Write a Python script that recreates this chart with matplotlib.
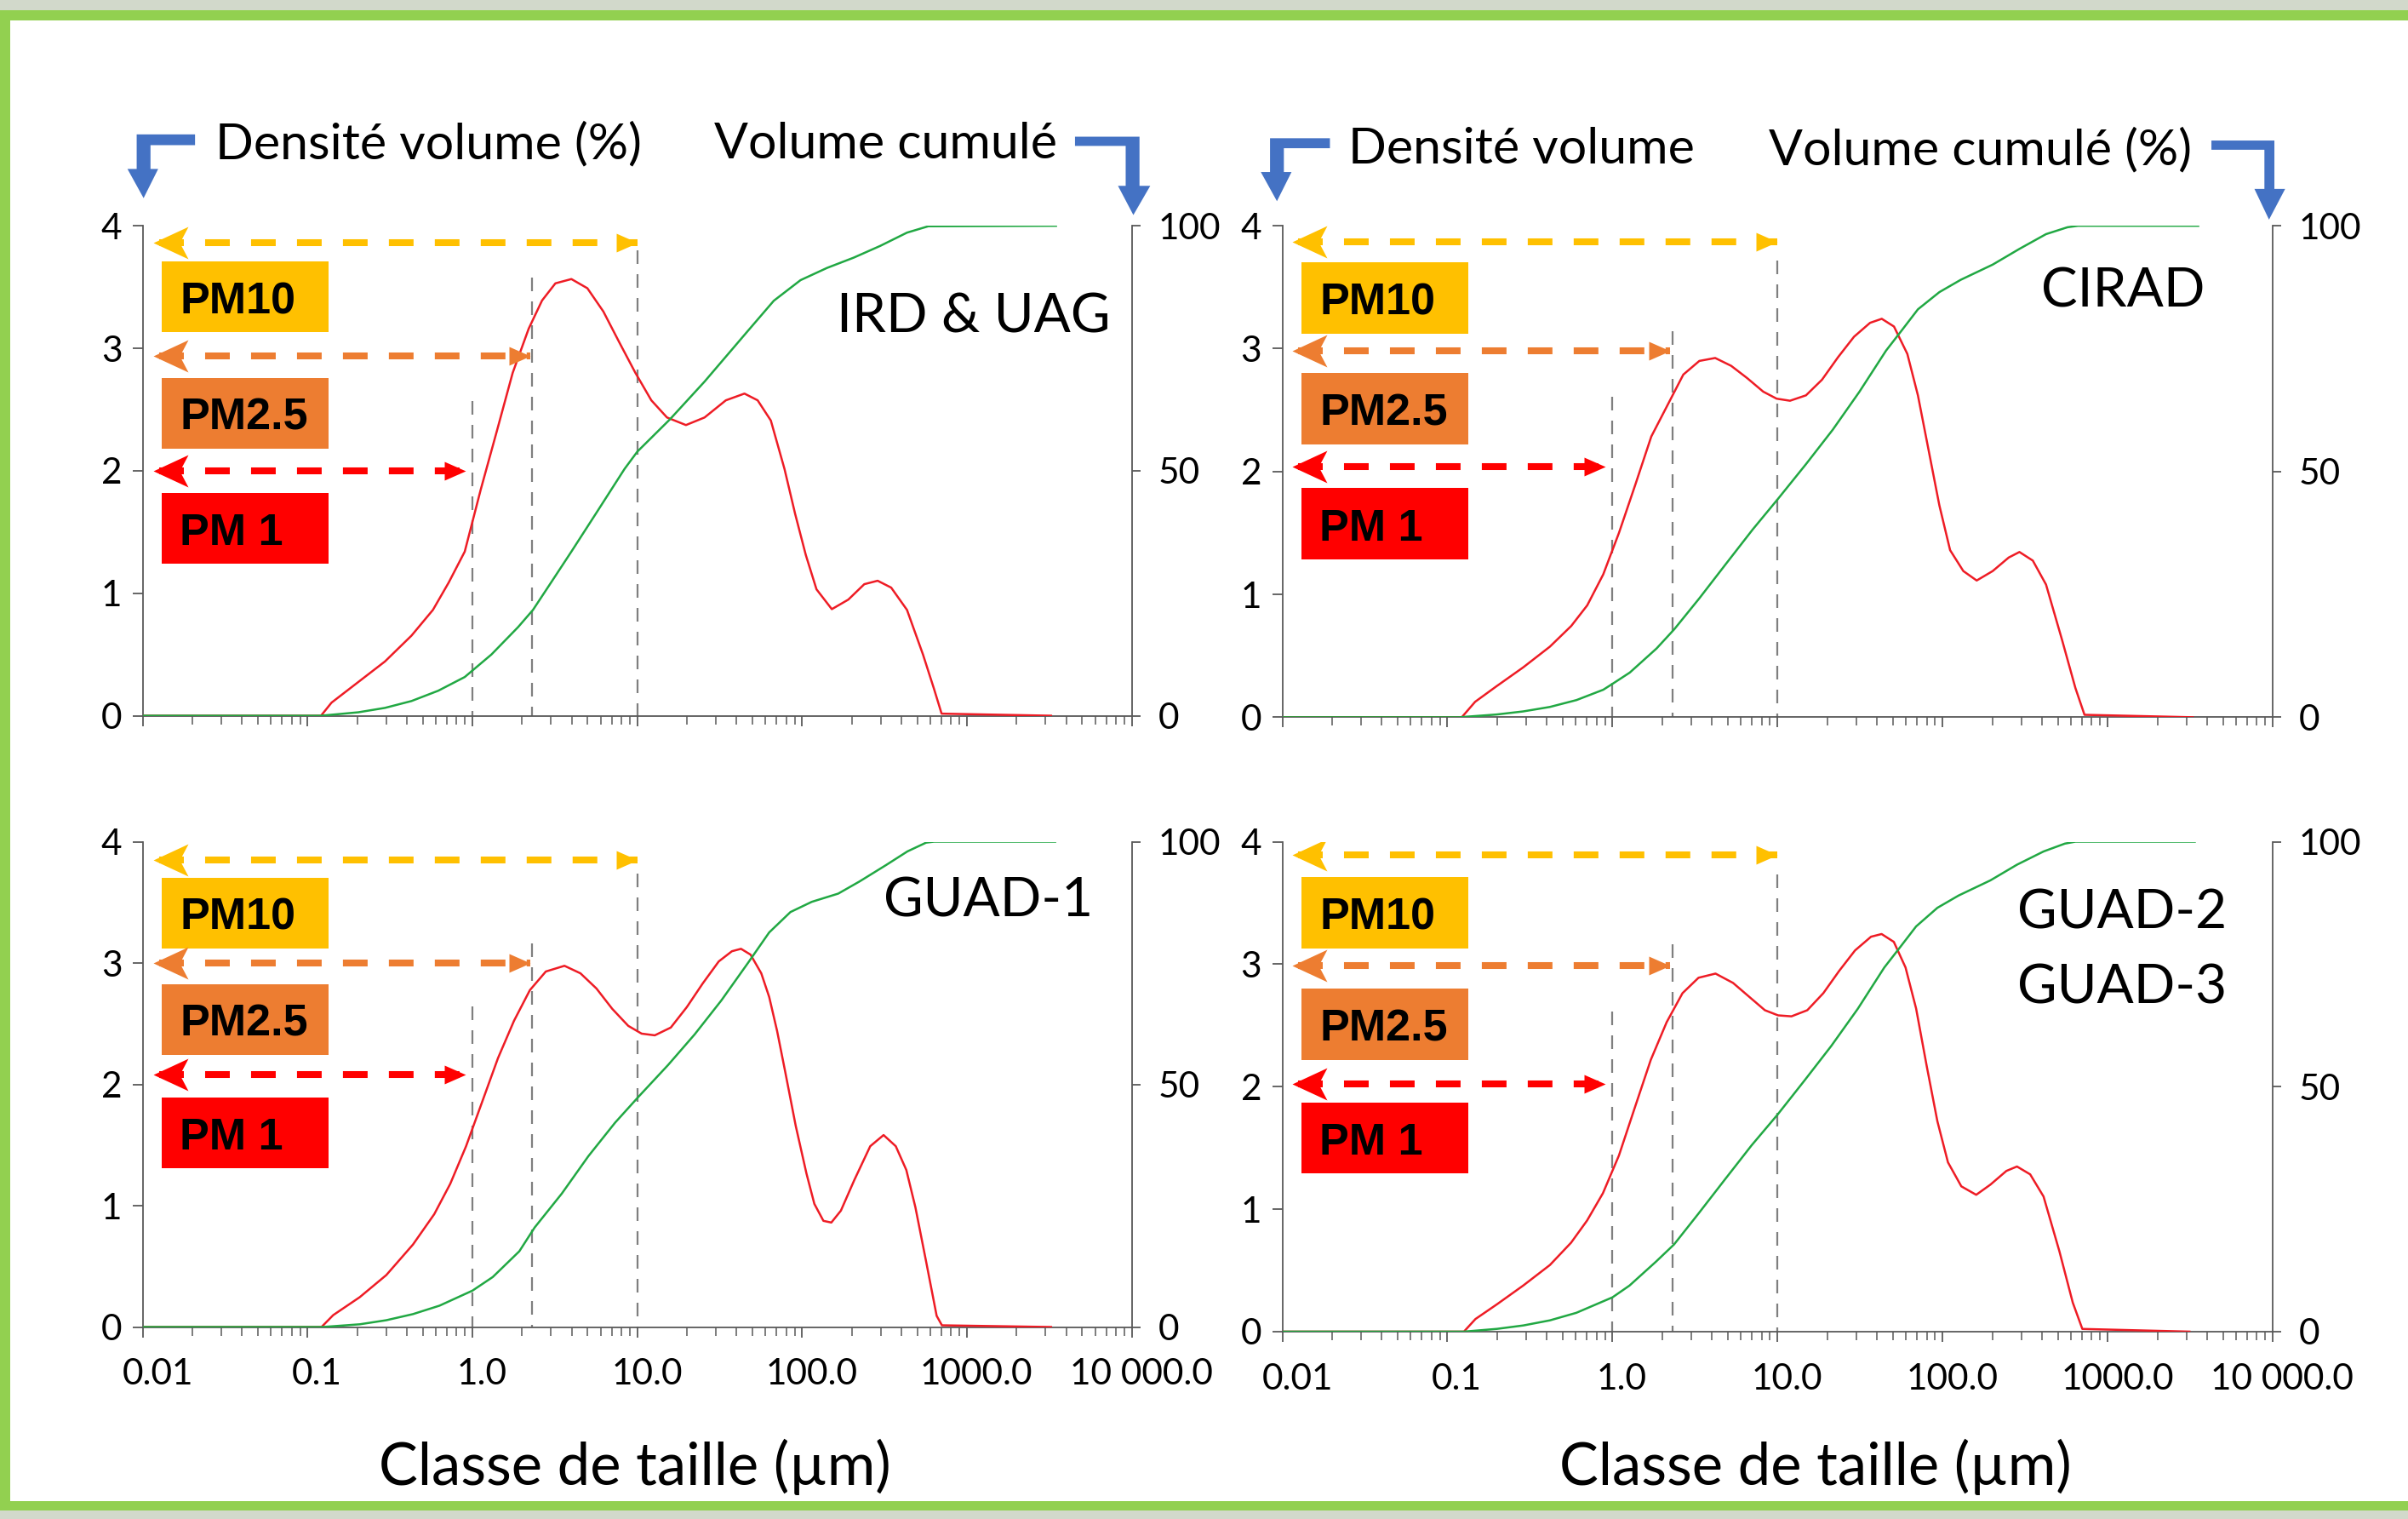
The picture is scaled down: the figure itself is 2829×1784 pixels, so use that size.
import matplotlib
matplotlib.use("Agg")
import matplotlib.pyplot as plt
import numpy as np
from matplotlib.markers import MarkerStyle
from matplotlib.patches import Polygon, Rectangle
from matplotlib.path import Path
from matplotlib.ticker import LogLocator, NullFormatter
from matplotlib.transforms import Affine2D, ScaledTranslation

plt.rcParams["font.family"] = ["Lato", "DejaVu Sans"]

# ---- values ----
size_ticks = [0.01, 0.1, 1, 10, 100, 1000, 10000]
size_tick_labels = ["0.01", "0.1", "1.0", "10.0", "100.0", "1000.0", "10 000.0"]
pm_names = ["PM 1", "PM2.5", "PM10"]
pm_colors = ["#FF0000", "#ED7D31", "#FFC000"]
pm_cuts = [1.0, 2.3, 10.0]        # dashed vertical lines (µm)
pm_arrow_ends = [0.91, 2.23, 10.0]

# sizes are given as log10(size in µm), read on the log axis
# IRD & UAG
ird_d_logsize = [-2, -0.919, -0.855, -0.693, -0.531, -0.37, -0.24, -0.144, -0.047, 0.05,
                 0.147, 0.244, 0.341, 0.422, 0.503, 0.60, 0.697, 0.794, 0.89, 0.988,
                 1.085, 1.18, 1.295, 1.408, 1.537, 1.65, 1.73, 1.81, 1.893, 1.957,
                 2.022, 2.087, 2.18, 2.28, 2.377, 2.458, 2.54, 2.636, 2.733, 2.80,
                 2.846, 3.51]
ird_density = [0, 0, 0.107, 0.275, 0.443, 0.654, 0.864, 1.088, 1.34, 1.846,
               2.32, 2.80, 3.16, 3.39, 3.53, 3.565, 3.49, 3.30, 3.05, 2.80,
               2.575, 2.435, 2.373, 2.435, 2.575, 2.63, 2.575, 2.41, 2.014, 1.65,
               1.313, 1.032, 0.87, 0.948, 1.074, 1.102, 1.046, 0.864, 0.50, 0.219,
               0.017, 0]
ird_c_logsize = [-2, -0.92, -0.855, -0.693, -0.531, -0.37, -0.208, -0.047, 0.115, 0.277,
                 0.367, 0.471, 0.60, 0.761, 0.923, 1.0, 1.198, 1.408, 1.667, 1.828,
                 1.99, 2.151, 2.313, 2.474, 2.636, 2.765, 3.54]
ird_cumul = [0, 0, 0.2, 0.7, 1.6, 3.0, 5.1, 7.9, 12.5, 18.1,
             21.6, 26.9, 33.5, 41.9, 50.4, 53.9, 60.5, 68.2, 78.4, 84.7,
             88.9, 91.4, 93.5, 95.9, 98.6, 99.9, 100]

# CIRAD
cirad_d_logsize = [-2, -0.913, -0.832, -0.703, -0.541, -0.379, -0.25, -0.153, -0.056, 0.039,
                   0.138, 0.235, 0.332, 0.429, 0.526, 0.622, 0.719, 0.816, 0.913, 0.994,
                   1.075, 1.172, 1.269, 1.366, 1.463, 1.56, 1.631, 1.705, 1.786, 1.85,
                   1.915, 1.98, 2.045, 2.125, 2.206, 2.303, 2.40, 2.465, 2.546, 2.626,
                   2.723, 2.804, 2.859, 3.515]
cirad_density = [0, 0, 0.126, 0.252, 0.406, 0.575, 0.743, 0.911, 1.163, 1.50,
                 1.892, 2.285, 2.537, 2.789, 2.90, 2.924, 2.86, 2.76, 2.65, 2.593,
                 2.576, 2.62, 2.747, 2.93, 3.097, 3.21, 3.243, 3.18, 2.957, 2.62,
                 2.172, 1.724, 1.36, 1.19, 1.113, 1.19, 1.30, 1.345, 1.275, 1.08,
                 0.63, 0.238, 0.02, 0]
cirad_c_logsize = [-2, -0.93, -0.703, -0.541, -0.379, -0.218, -0.056, 0.0, 0.105, 0.267,
                   0.374, 0.526, 0.687, 0.849, 1.004, 1.172, 1.334, 1.495, 1.657, 1.754,
                   1.85, 1.98, 2.109, 2.303, 2.465, 2.626, 2.756, 2.82, 3.548]
cirad_cumul = [0, 0, 0.56, 1.19, 2.1, 3.5, 5.6, 6.8, 9.1, 14.0,
               17.9, 24.2, 31.2, 38.2, 44.5, 51.5, 58.5, 66.2, 74.6, 78.8,
               83.0, 86.5, 89.0, 92.1, 95.3, 98.3, 99.7, 100, 100]

# GUAD-1
guad1_d_logsize = [-2, -0.916, -0.845, -0.684, -0.523, -0.361, -0.232, -0.135, -0.039, 0.058,
                   0.155, 0.252, 0.348, 0.445, 0.558, 0.655, 0.752, 0.848, 0.945, 1.026,
                   1.106, 1.203, 1.30, 1.397, 1.494, 1.574, 1.629, 1.687, 1.752, 1.80,
                   1.848, 1.897, 1.961, 2.026, 2.074, 2.129, 2.177, 2.235, 2.316, 2.413,
                   2.494, 2.568, 2.632, 2.687, 2.752, 2.816, 2.848, 3.51]
guad1_density = [0, 0, 0.098, 0.246, 0.428, 0.68, 0.93, 1.18, 1.49, 1.853,
                 2.217, 2.524, 2.776, 2.93, 2.977, 2.915, 2.79, 2.622, 2.482, 2.418,
                 2.404, 2.468, 2.636, 2.832, 3.013, 3.097, 3.117, 3.069, 2.915, 2.72,
                 2.44, 2.105, 1.658, 1.266, 1.015, 0.875, 0.861, 0.959, 1.21, 1.49,
                 1.582, 1.49, 1.294, 0.987, 0.54, 0.092, 0.014, 0]
guad1_c_logsize = [-2, -0.91, -0.684, -0.523, -0.361, -0.2, 0.0, 0.123, 0.284, 0.377,
                   0.542, 0.703, 0.865, 1.006, 1.187, 1.348, 1.51, 1.671, 1.80, 1.929,
                   2.058, 2.219, 2.348, 2.51, 2.639, 2.752, 2.80, 3.535]
guad1_cumul = [0, 0, 0.56, 1.4, 2.66, 4.4, 7.5, 10.3, 15.6, 20.5,
               27.5, 35.2, 42.1, 47.4, 54.0, 60.3, 67.3, 75.0, 81.3, 85.5,
               87.6, 89.3, 91.8, 95.2, 98.0, 99.8, 100, 100]

# GUAD-2 / GUAD-3
guad23_d_logsize = [-2, -0.90, -0.83, -0.70, -0.54, -0.379, -0.251, -0.154, -0.058, 0.039,
                    0.135, 0.232, 0.328, 0.424, 0.521, 0.624, 0.73, 0.826, 0.923, 1.003,
                    1.084, 1.18, 1.277, 1.373, 1.469, 1.566, 1.63, 1.704, 1.775, 1.839,
                    1.904, 1.968, 2.032, 2.113, 2.203, 2.289, 2.386, 2.45, 2.53, 2.611,
                    2.707, 2.788, 2.846, 3.495]
guad23_density = [0, 0, 0.103, 0.223, 0.377, 0.544, 0.726, 0.907, 1.13, 1.438,
                  1.828, 2.219, 2.526, 2.763, 2.889, 2.923, 2.847, 2.736, 2.624, 2.582,
                  2.574, 2.624, 2.763, 2.945, 3.112, 3.224, 3.246, 3.182, 2.973, 2.638,
                  2.163, 1.717, 1.382, 1.186, 1.117, 1.20, 1.312, 1.348, 1.284, 1.103,
                  0.656, 0.237, 0.022, 0]
guad23_c_logsize = [-2, -0.90, -0.70, -0.54, -0.379, -0.219, 0.0, 0.103, 0.264, 0.373,
                    0.521, 0.682, 0.842, 1.0, 1.164, 1.325, 1.486, 1.646, 1.743, 1.839,
                    1.968, 2.096, 2.289, 2.45, 2.611, 2.74, 2.804, 3.527]
guad23_cumul = [0, 0, 0.56, 1.26, 2.3, 3.84, 7.0, 9.4, 14.3, 17.8,
                24.1, 31.1, 38.0, 44.3, 51.3, 58.3, 65.9, 74.3, 78.5, 82.7,
                86.5, 89.0, 92.1, 95.3, 98.0, 99.6, 100, 100]

# ---- figure, laid out in a 1568 x 989 reference frame ----
REF_W, REF_H = 1568, 989
fig = plt.figure(figsize=(28.29, 17.84), dpi=100, facecolor="white")
ref = Affine2D().scale(1 / REF_W, -1 / REF_H).translate(0, 1) + fig.transFigure

GREEN_BORDER = "#92D050"
for x0, y0, w, h, c in [
    (0, 0, REF_W, 6.65, "#d2d9cb"),
    (0, 6.65, REF_W, 6.65, GREEN_BORDER),
    (0, 6.65, 6.65, 971, GREEN_BORDER),
    (0, 977.1, REF_W, 6.65, GREEN_BORDER),
    (0, 983.7, REF_W, 6, "#d2d9cb"),
]:
    fig.add_artist(Rectangle((x0, y0), w, h, transform=ref, color=c, lw=0, zorder=0))


def axes_rect(x0, y0, x1, y1):
    return [x0 / REF_W, 1 - y1 / REF_H, (x1 - x0) / REF_W, (y1 - y0) / REF_H]


stealth = MarkerStyle(Path([(0, 0), (41, 19), (31, 0), (41, -19), (0, 0)],
                           [Path.MOVETO, Path.LINETO, Path.LINETO, Path.LINETO, Path.CLOSEPOLY]))
tri = MarkerStyle(Path([(0, 0), (-25, 11), (-25, -11), (0, 0)],
                       [Path.MOVETO, Path.LINETO, Path.LINETO, Path.CLOSEPOLY]))

SPINE = "#595959"
TICK_FS = 30.5


def draw_panel(rect, d_logsize, density, c_logsize, cumul, arrow_y, box_y, vtop, xlabels):
    ax = fig.add_axes(rect)
    ax.set_xscale("log")
    ax.set_xlim(0.01, 10000)
    ax.set_ylim(0, 4)
    ax2 = ax.twinx()
    ax2.set_ylim(0, 100)

    ax.plot(np.power(10.0, d_logsize), density, color="#EE1C25", lw=1.8, zorder=3,
            solid_joinstyle="round")
    ax2.plot(np.power(10.0, c_logsize), cumul, color="#21A843", lw=1.8, zorder=3,
             solid_joinstyle="round")

    for cut, top in zip(pm_cuts, vtop):
        ax.plot([cut, cut], [top, 0], color="#7f7f7f", lw=1.6, ls=(0, (7.2, 5.4)), zorder=2)

    for name, col, end, ay, by in zip(pm_names, pm_colors, pm_arrow_ends, arrow_y, box_y):
        ax.plot([0.0125, end], [ay, ay], color=col, lw=5.8, ls=(0, (3.6, 3.1)),
                dash_capstyle="butt", zorder=4)
        ax.plot([0.0115], [ay], marker=stealth, ms=59, mew=0, color=col, zorder=5)
        ax.plot([end], [ay], marker=tri, ms=36, mew=0, color=col, zorder=5)
        ax.add_patch(Rectangle((0.013, by - 0.29), 0.134 - 0.013, 0.58,
                               color=col, lw=0, zorder=4))
        ax.text(0.0168, by - 0.135, name, ha="left", va="baseline", fontsize=37.5,
                fontweight="bold", family="Liberation Sans", zorder=6)

    for s in ["top", "right"]:
        ax.spines[s].set_visible(False)
    for s in ["top", "left", "bottom"]:
        ax2.spines[s].set_visible(False)
    for s in ["left", "bottom"]:
        ax.spines[s].set_color(SPINE)
        ax.spines[s].set_linewidth(1.3)
    ax2.spines["right"].set_color(SPINE)
    ax2.spines["right"].set_linewidth(1.3)

    ax.set_yticks([0, 1, 2, 3, 4])
    ax2.set_yticks([0, 50, 100])
    ax.set_xticks(size_ticks, size_tick_labels if xlabels else [""] * len(size_ticks))
    ax.xaxis.set_minor_locator(LogLocator(base=10, subs=range(2, 10), numticks=50))
    ax.xaxis.set_minor_formatter(NullFormatter())

    ax.tick_params(axis="y", length=8.5, width=1.3, color=SPINE, pad=9, labelsize=TICK_FS)
    ax2.tick_params(axis="y", length=7, width=1.3, color=SPINE, pad=15, labelsize=TICK_FS)
    ax.tick_params(axis="x", which="major", length=8.6, width=1.3, color=SPINE, pad=18,
                   labelsize=TICK_FS)
    ax.tick_params(axis="x", which="minor", length=7.2, width=1.1, color=SPINE)

    for i, lbl in enumerate(ax.get_xticklabels()):
        dx = 13 if i == 0 else 8
        lbl.set_transform(lbl.get_transform() + ScaledTranslation(dx / 72, 0, fig.dpi_scale_trans))
    return ax


draw_panel(axes_rect(93, 147, 737, 466), ird_d_logsize, ird_density, ird_c_logsize, ird_cumul,
           arrow_y=[2.0, 2.94, 3.865], box_y=[1.53, 2.47, 3.42], vtop=[2.57, 3.58, 3.80],
           xlabels=False)
draw_panel(axes_rect(835, 147, 1480, 467), cirad_d_logsize, cirad_density, cirad_c_logsize,
           cirad_cumul,
           arrow_y=[2.04, 2.98, 3.87], box_y=[1.575, 2.51, 3.41], vtop=[2.61, 3.14, 3.72],
           xlabels=False)
draw_panel(axes_rect(93, 548, 737, 864), guad1_d_logsize, guad1_density, guad1_c_logsize,
           guad1_cumul,
           arrow_y=[2.08, 3.0, 3.85], box_y=[1.6, 2.535, 3.41], vtop=[2.64, 3.16, 3.74],
           xlabels=True)
draw_panel(axes_rect(835, 548, 1480, 867), guad23_d_logsize, guad23_density, guad23_c_logsize,
           guad23_cumul,
           arrow_y=[2.02, 2.99, 3.89], box_y=[1.58, 2.51, 3.42], vtop=[2.61, 3.16, 3.73],
           xlabels=True)

# headers and bent blue arrows
HEAD_FS = 42.5
fig.text(140, 103.5, "Densité volume (%)", transform=ref, fontsize=HEAD_FS, va="baseline")
fig.text(465, 103, "Volume cumulé", transform=ref, fontsize=HEAD_FS, va="baseline")
fig.text(878, 106.3, "Densité volume", transform=ref, fontsize=HEAD_FS, va="baseline")
fig.text(1152, 107.5, "Volume cumulé (%)", transform=ref, fontsize=HEAD_FS, va="baseline")

BLUE = "#4472C4"
blue_arrows = [
    [(127, 87.5), (89, 87.5), (89, 110), (83, 110), (93.5, 129), (103, 110), (98, 110),
     (98, 94.5), (127, 94.5)],
    [(700, 89), (742, 89), (742, 121), (749, 121), (738, 140), (728, 121), (733, 121),
     (733, 95), (700, 95)],
    [(866, 90), (827, 90), (827, 112), (821, 112), (831.5, 131), (841, 112), (836, 112),
     (836, 96.5), (866, 96.5)],
    [(1440, 91.5), (1481, 91.5), (1481, 123), (1488, 123), (1477.5, 143), (1468, 123),
     (1474.5, 123), (1474.5, 97.5), (1440, 97.5)],
]
for pts in blue_arrows:
    fig.add_artist(Polygon(pts, closed=True, transform=ref, color=BLUE, lw=0, zorder=5))

# panel names
NAME_FS = 46
fig.text(723, 216.4, "IRD & UAG", transform=ref, fontsize=NAME_FS, ha="right", va="baseline")
fig.text(1436, 200, "CIRAD", transform=ref, fontsize=NAME_FS, ha="right", va="baseline")
fig.text(712, 597, "GUAD-1", transform=ref, fontsize=NAME_FS, ha="right", va="baseline")
fig.text(1450, 604.3, "GUAD-2", transform=ref, fontsize=NAME_FS, ha="right", va="baseline")
fig.text(1450, 653.4, "GUAD-3", transform=ref, fontsize=NAME_FS, ha="right", va="baseline")

# x axis titles
fig.text(413.5, 967, "Classe de taille (µm)", transform=ref, fontsize=49.5, ha="center",
         va="baseline")
fig.text(1182, 967, "Classe de taille (µm)", transform=ref, fontsize=49.5, ha="center",
         va="baseline")

fig.savefig("out.png", dpi=100)
